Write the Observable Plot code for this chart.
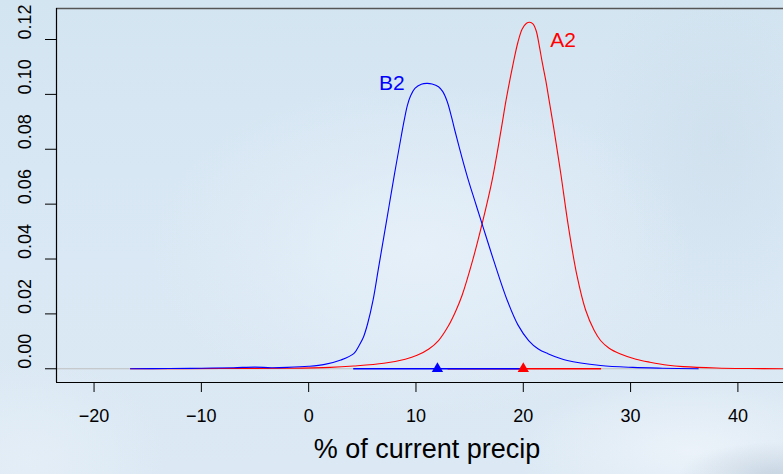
<!DOCTYPE html>
<html>
<head>
<meta charset="utf-8">
<script src="https://cdn.jsdelivr.net/npm/d3@7"></script>
<script src="https://cdn.jsdelivr.net/npm/@observablehq/plot@0.6"></script>
<style>
  html, body { margin: 0; padding: 0; }
  body {
    width: 783px; height: 474px; overflow: hidden;
    font-family: "Liberation Sans", Arial, Helvetica, sans-serif;
    background:
      radial-gradient(ellipse 120px 40px at 775px 474px, rgba(185,200,215,0.6), rgba(185,200,215,0) 80%),
      radial-gradient(ellipse 220px 90px at 690px 450px, rgba(238,244,250,0.85), rgba(238,244,250,0) 80%),
      radial-gradient(ellipse 340px 210px at 420px 250px, rgba(230,240,249,0.95), rgba(230,240,249,0) 80%),
      radial-gradient(ellipse 180px 140px at 30px 460px, rgba(228,238,247,0.9), rgba(228,238,247,0) 75%),
      radial-gradient(ellipse 160px 240px at 720px 140px, rgba(203,220,234,0.5), rgba(203,220,234,0) 80%),
      linear-gradient(180deg, #d4e5f2 0%, #d9e8f4 55%, #dce9f4 100%);
  }
  #chart svg { display: block; }
</style>
</head>
<body>
<div id="chart"></div>
<script>
// Density of the projected change for scenario B2
const b2X = [-16.6, -13, -10, -7, -5, -3.5, -2, 0, 1.5, 3, 4.2, 4.7, 5.1, 5.5, 6.0, 6.5, 7.0, 7.5, 8.0, 8.5, 8.9, 9.2, 9.5, 9.9, 10.5, 11.0, 11.5, 12.1, 12.5, 12.9, 13.3, 13.6, 14.3, 14.9, 15.5, 16.16, 17.24, 18.5, 19.5, 20.5, 21.4, 22.3, 24.1, 27.2, 30.2, 33, 36.3];
const b2Y = [0, 0.0001, 0.0002, 0.0004, 0.0006, 0.0004, 0.0005, 0.0009, 0.0016, 0.0032, 0.0055, 0.0085, 0.0115, 0.0165, 0.025, 0.0365, 0.048, 0.0595, 0.071, 0.082, 0.0905, 0.096, 0.0995, 0.1022, 0.1037, 0.104, 0.1038, 0.1028, 0.101, 0.0975, 0.092, 0.0872, 0.0768, 0.0685, 0.061, 0.0528, 0.0395, 0.025, 0.016, 0.0103, 0.0072, 0.0055, 0.003, 0.0012, 0.0005, 0.0002, 0];

// Density of the projected change for scenario A2
const a2X = [-16.6, -8, -2, 2, 4.2, 7.0, 9, 10.1, 11.2, 12.1, 13.0, 13.7, 14.3, 15.28, 16.16, 17.09, 17.96, 18.4, 19.1, 19.5, 19.9, 20.3, 20.6, 20.9, 21.2, 21.5, 21.75, 22.1, 22.4, 22.84, 23.5, 24.2, 25.0, 25.8, 26.6, 27.2, 28.0, 29.0, 30.5, 31.8, 33.5, 34.9, 38, 41, 44.25];
const a2Y = [0, 0.0001, 0.0002, 0.0005, 0.001, 0.002, 0.0035, 0.0049, 0.0072, 0.0103, 0.0155, 0.021, 0.0268, 0.0395, 0.0528, 0.0686, 0.0877, 0.098, 0.112, 0.119, 0.1238, 0.1259, 0.1263, 0.1257, 0.1232, 0.1175, 0.112, 0.105, 0.098, 0.0877, 0.071, 0.052, 0.034, 0.0215, 0.014, 0.0103, 0.0075, 0.0055, 0.0035, 0.0024, 0.0013, 0.0008, 0.0003, 0.0001, 0];

// Scenario names, colours, interval ends, central estimates and label anchors
const scenarios = ["A2", "B2"];
const colors = ["red", "blue"];
const lower = [13.0, 4.2];
const upper = [27.3, 19.8];
const central = [20.0, 12.0];
const labelX = [23.7, 7.75];
const labelY = [0.1197, 0.104];

// Axis ticks and ranges
const xTicks = [-20, -10, 0, 10, 20, 30, 40];
const yTicks = [0, 0.02, 0.04, 0.06, 0.08, 0.10, 0.12];
const xDomain = [-23.5, 44.25];
const yDomain = [-0.005, 0.1313];
const xTitle = "% of current precip";

const curveRows = [
  ...a2X.map((x, i) => ({scenario: "A2", x, y: a2Y[i]})),
  ...b2X.map((x, i) => ({scenario: "B2", x, y: b2Y[i]}))
];
const summary = scenarios.map((s, i) => ({
  scenario: s, color: colors[i], lo: lower[i], hi: upper[i],
  mid: central[i], lx: labelX[i], ly: labelY[i]
}));
const colorOf = Object.fromEntries(scenarios.map((s, i) => [s, colors[i]]));

const chart = Plot.plot({
  width: 783,
  height: 474,
  marginLeft: 56,
  marginRight: 0,
  marginTop: 8,
  marginBottom: 92,
  style: {background: "transparent", fontFamily: "Liberation Sans, Arial, Helvetica, sans-serif", color: "black"},
  x: {domain: xDomain},
  y: {domain: yDomain},
  marks: [
    // zero reference line
    Plot.ruleY([0], {stroke: "#bebebe", strokeWidth: 1}),
    // density curves
    Plot.line(curveRows.filter(d => d.scenario === "A2"), {x: "x", y: "y", stroke: colorOf.A2, strokeWidth: 1.1, curve: "catmull-rom"}),
    Plot.line(curveRows.filter(d => d.scenario === "B2"), {x: "x", y: "y", stroke: colorOf.B2, strokeWidth: 1.1, curve: "catmull-rom"}),
    // intervals along the zero line
    Plot.ruleY(summary, {y: () => 0, x1: "lo", x2: "hi", stroke: "color", strokeWidth: 1.6}),
    // central estimates
    Plot.dot(summary, {x: "mid", y: () => 0, symbol: "triangle", r: 4.2, fill: "color", stroke: "none"}),
    // scenario labels
    Plot.text(summary, {x: "lx", y: "ly", text: "scenario", fill: "color", fontSize: 21}),
    // box
    Plot.ruleY([yDomain[1]], {stroke: "#555", strokeWidth: 1.6}),
    Plot.ruleY([yDomain[0]], {stroke: "black", strokeWidth: 1.2}),
    Plot.ruleX([xDomain[0]], {stroke: "black", strokeWidth: 1.2}),
    // axes
    Plot.axisX({ticks: xTicks, tickSize: 10, tickPadding: 17, fontSize: 18, label: null}),
    Plot.axisY({ticks: yTicks, tickSize: 11, tickFormat: () => "", label: null}),
    Plot.text(yTicks, {y: d => d, frameAnchor: "left", dx: -31, rotate: -90, text: d => d3.format(".2f")(d), fontSize: 18}),
    Plot.text([xTitle], {frameAnchor: "bottom", dy: 75, dx: 7, text: d => d, fontSize: 27})
  ]
});
document.getElementById("chart").appendChild(chart);
</script>
</body>
</html>
